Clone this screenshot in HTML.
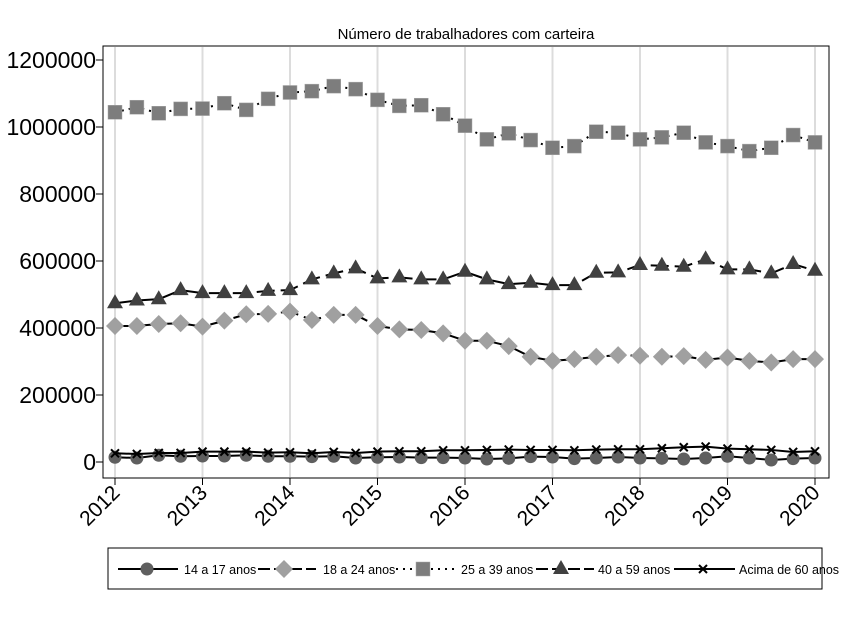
<!DOCTYPE html>
<html><head><meta charset="utf-8"><style>
body{margin:0;background:#fff;}
svg{display:block;font-family:"Liberation Sans",Arial,sans-serif;}
</style></head><body>
<svg id="chart" width="852" height="620" viewBox="0 0 852 620" xmlns="http://www.w3.org/2000/svg">
<rect x="0" y="0" width="852" height="620" fill="#fff"/>
<text x="466" y="39" font-size="15" text-anchor="middle">Número de trabalhadores com carteira</text>
<g id="grid"></g><g id="axes"></g><g id="series"></g>
<g id="legend">
<rect x="108" y="548" width="714" height="41" fill="#fff" stroke="#000" stroke-width="1"/>
</g>
</svg>
<script>
const yTicks=[0,200000,400000,600000,800000,1000000,1200000];
const xYears=[2012,2013,2014,2015,2016,2017,2018,2019,2020];
const seriesNames=["14 a 17 anos","18 a 24 anos","25 a 39 anos","40 a 59 anos","Acima de 60 anos"];
const s14=[14,12,20,17,18,18,20,17,17,16,17,12,14,15,13,13,12,9,11,16,15,10,12,15,12,11,9,12,17,12,6,10,12];
const s18=[406,406,412,414,404,422,441,442,449,424,439,439,406,396,394,384,362,362,346,314,302,307,314,319,317,314,316,305,312,302,297,307,307];
const s25=[1044,1059,1041,1054,1055,1071,1051,1084,1103,1107,1122,1113,1081,1063,1065,1038,1004,963,981,961,938,943,986,983,963,969,983,954,943,928,938,976,954];
const s40=[474,482,486,513,504,504,504,511,513,545,563,578,548,551,545,545,568,545,531,535,528,528,565,566,588,586,583,605,575,575,563,591,571];
const s60=[26,24,27,27,31,31,31,28,29,26,30,27,31,32,32,35,35,36,37,36,36,35,37,38,38,41,44,46,40,38,36,30,32];
const NS="http://www.w3.org/2000/svg";
const X0=115,X1=815,Y0=462,Y1=60;
const xs=i=>X0+(X1-X0)*(i/32);
const xy=yr=>X0+(X1-X0)*(yr-2012)/8;
const ys=v=>Y0-(Y0-Y1)*v/1200000;
function mk(tag,attrs,parent){const e=document.createElementNS(NS,tag);for(const k in attrs)e.setAttribute(k,attrs[k]);parent.appendChild(e);return e;}
const grid=document.getElementById('grid'),axes=document.getElementById('axes'),ser=document.getElementById('series'),leg=document.getElementById('legend');
xYears.forEach(yr=>{
 const g=mk('line',{x1:xy(yr),x2:xy(yr),y1:47,y2:477,stroke:'#dcdcdc','stroke-width':2},grid);
 
 
 const t=mk('line',{x1:xy(yr),x2:xy(yr),y1:478,y2:485,stroke:'#000','stroke-width':1},axes);
 
 
 const lx=xy(yr)+6,ly=494;
 const tx=mk('text',{x:lx,y:ly,'font-size':21,'text-anchor':'end',transform:`rotate(-45 ${lx} ${ly})`},axes);
 tx.textContent=yr;
 
 
});
mk('rect',{x:103,y:46,width:726,height:432,fill:'none',stroke:'#000','stroke-width':1},axes);
yTicks.forEach(v=>{
 const t=mk('line',{x1:96,x2:103,y1:ys(v),y2:ys(v),stroke:'#000','stroke-width':1},axes);
 
 
 const tx=mk('text',{x:96,y:ys(v)+8,'font-size':23,'text-anchor':'end'},axes);
 tx.textContent=v;
 
 
});
function marker(type,x,y,col,parent){
 if(type==='circle')return mk('circle',{cx:x,cy:y,r:6.5,fill:col},parent);
 if(type==='diamond')return mk('polygon',{points:`${x},${y-9} ${x+9},${y} ${x},${y+9} ${x-9},${y}`,fill:col},parent);
 if(type==='square')return mk('rect',{x:x-7,y:y-7,width:14,height:14,fill:col,stroke:'#aaa','stroke-width':0.5},parent);
 if(type==='triangle')return mk('polygon',{points:`${x},${y-9} ${x+8},${y+5} ${x-8},${y+5}`,fill:col},parent);
 return mk('path',{d:`M${x-4},${y-4}L${x+4},${y+4}M${x+4},${y-4}L${x-4},${y+4}`,stroke:'#000','stroke-width':2},parent);
}
const defs=[
 {d:s14,m:'circle',c:'#5f5f5f',dash:'none'},
 {d:s18,m:'diamond',c:'#a0a0a0',dash:'18 6'},
 {d:s25,m:'square',c:'#7d7d7d',dash:'2 5'},
 {d:s40,m:'triangle',c:'#404040',dash:'18 6'},
 {d:s60,m:'x',c:'#000',dash:'none'}];
const keys=['14-17','18-24','25-39','40-59','60-plus'];
const legLine0=[118,258,396,536,674], legLine1=[178,316,456,594,735], legMark=[147,284,423,561,703], legText=[184,323,461,598,739];
defs.forEach((s,k)=>{
 const g=mk('g',{},ser);
 
 
 const pts=s.d.map((v,i)=>xs(i)+','+ys(v*1000)).join(' ');
 const pl=mk('polyline',{points:pts,fill:'none',stroke:'#000','stroke-width':2,'stroke-dasharray':s.dash},g);
 
 
 s.d.forEach((v,i)=>{const m=marker(s.m,xs(i),ys(v*1000),s.c,g);
  
  });
 const e=mk('g',{},leg);
 
 
 mk('line',{x1:legLine0[k],x2:legLine1[k],y1:569,y2:569,stroke:'#000','stroke-width':2,'stroke-dasharray':s.dash==='18 6'?'12 4':s.dash},e);
 marker(s.m,legMark[k],569,s.c,e);
 const tx=mk('text',{x:legText[k],y:574,'font-size':12.5},e);
 tx.textContent=seriesNames[k];
});
</script>
</body></html>
